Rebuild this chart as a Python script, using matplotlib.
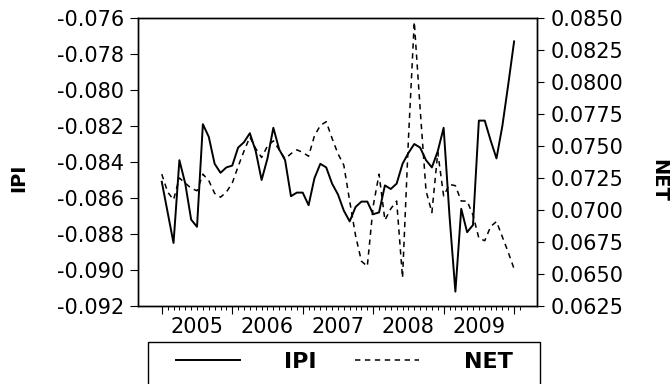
import numpy as np
import matplotlib
matplotlib.use("Agg")
import matplotlib.pyplot as plt
from matplotlib.patches import Rectangle
from matplotlib.ticker import FixedLocator, FormatStrFormatter

plt.rcParams['font.family'] = ['DejaVu Sans']
plt.rcParams['axes.unicode_minus'] = False

# Monthly observations, January 2005 onwards
years = ['2005', '2006', '2007', '2008', '2009']

ipi = [
    -0.0851, -0.0868, -0.0885, -0.0839, -0.0852, -0.0872, -0.0876, -0.0819, -0.0826, -0.0841,
    -0.0846, -0.0843, -0.0842, -0.0832, -0.0829, -0.0824, -0.0834, -0.0850, -0.0838, -0.0821,
    -0.0833, -0.0839, -0.0859, -0.0857, -0.0857, -0.0864, -0.0849, -0.0841, -0.0843, -0.0852,
    -0.0858, -0.0867, -0.0873, -0.0865, -0.0862, -0.0862, -0.0869, -0.0868, -0.0853, -0.0855,
    -0.0852, -0.0841, -0.0835, -0.0830, -0.0832, -0.0839, -0.0843, -0.0834, -0.0821, -0.0870,
    -0.0912, -0.0866, -0.0879, -0.0875, -0.0817, -0.0817, -0.0828, -0.0838, -0.0820, -0.0797,
    -0.0773,
]

net = [
    0.0728, 0.0714, 0.0708, 0.0725, 0.0721, 0.0717, 0.0715, 0.0728, 0.0723, 0.0713,
    0.0710, 0.0714, 0.0721, 0.0734, 0.0746, 0.0757, 0.0748, 0.0741, 0.0750, 0.0754,
    0.0747, 0.0740, 0.0744, 0.0747, 0.0745, 0.0742, 0.0758, 0.0766, 0.0769, 0.0756,
    0.0744, 0.0735, 0.0707, 0.0680, 0.0660, 0.0656, 0.0703, 0.0728, 0.0692, 0.0701,
    0.0707, 0.0647, 0.0755, 0.0847, 0.0779, 0.0715, 0.0698, 0.0745, 0.0711, 0.0720,
    0.0719, 0.0707, 0.0707, 0.0696, 0.0678, 0.0676, 0.0687, 0.0691, 0.0679, 0.0667,
    0.0654,
]

ipi_ticks = [-0.092, -0.090, -0.088, -0.086, -0.084, -0.082, -0.080, -0.078, -0.076]
net_ticks = [0.0625, 0.0650, 0.0675, 0.0700, 0.0725, 0.0750, 0.0775, 0.0800, 0.0825, 0.0850]

t = np.arange(len(ipi))

W, H = 672, 384
fig = plt.figure(figsize=(W / 100, H / 100), dpi=100)
ax = fig.add_axes([138 / W, 1 - 306 / H, 399 / W, 288 / H])
ax2 = ax.twinx()

l1, = ax.plot(t, ipi, color='black', lw=1.4, label='IPI')
l2, = ax2.plot(t, net, color='black', lw=1.1, ls=(0, (3.5, 3)), label='NET')

ax.set_xlim(-4.05, 63.9)
ax.set_ylim(ipi_ticks[0], ipi_ticks[-1])
ax2.set_ylim(net_ticks[0], net_ticks[-1])

ax.yaxis.set_major_locator(FixedLocator(ipi_ticks))
ax.yaxis.set_major_formatter(FormatStrFormatter('%.3f'))
ax2.yaxis.set_major_locator(FixedLocator(net_ticks))
ax2.yaxis.set_major_formatter(FormatStrFormatter('%.4f'))

# Year boundaries as long ticks, monthly short ticks, year names mid-year
year_bounds = np.arange(0, 61, 12)
ax.set_xticks(year_bounds)
ax.set_xticklabels([''] * len(year_bounds))
months = np.arange(0, 62)
month_labels = []
for m in months:
    k = (m - 6) // 12
    if (m - 6) % 12 == 0 and 0 <= k < len(years):
        month_labels.append(years[k])
    else:
        month_labels.append('')
ax.set_xticks(months, minor=True)
ax.set_xticklabels(month_labels, minor=True)

ax.tick_params(axis='x', which='major', direction='out', length=6, width=0.8)
ax.tick_params(axis='x', which='minor', direction='out', length=3, width=0.7,
               pad=5, labelsize=15)
ax.tick_params(axis='y', direction='out', length=6, width=0.8, pad=4, labelsize=15)
ax2.tick_params(axis='y', direction='out', length=5, width=0.8, pad=5, labelsize=15)

for a in (ax, ax2):
    for s in a.spines.values():
        s.set_linewidth(1.0)
        s.set_color('black')

ax.set_ylabel('IPI', fontsize=14, fontweight='bold', va='center', ha='center')
ax.yaxis.set_label_coords((19 - 138) / 399, (306 - 178) / 288)
ax2.set_ylabel('NET', fontsize=14, fontweight='bold', rotation=-90,
               va='center', ha='center')
ax2.yaxis.set_label_coords((659 - 138) / 399, (306 - 180) / 288)

# Legend box below the plot
fig.patches.append(Rectangle((148 / W, -0.05), 392 / W, 0.05 + (1 - 342 / H),
                             transform=fig.transFigure, fill=False,
                             ec='black', lw=1.0))
fig.legend(handles=[l1, l2], labels=['IPI', 'NET'], loc='center',
           bbox_to_anchor=(344 / W, 1 - 362 / H), ncol=2, frameon=False,
           prop=dict(weight='bold', size=16), handlelength=2.9,
           handletextpad=2.0, columnspacing=1.7, borderpad=0)

fig.savefig('out.png', dpi=100)
